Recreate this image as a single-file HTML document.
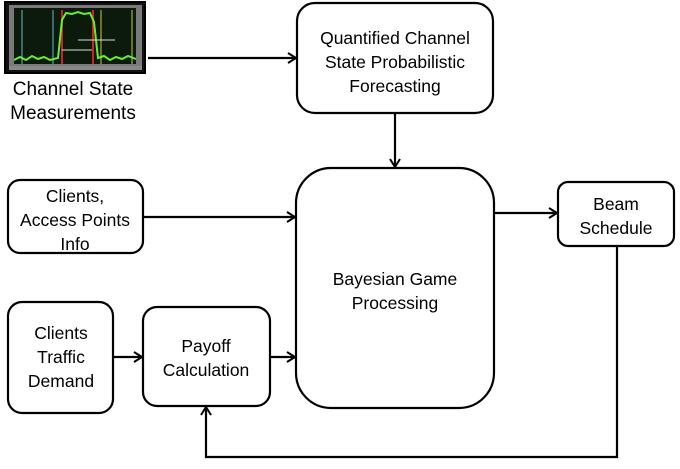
<!DOCTYPE html>
<html><head><style>
body{margin:0;background:#fff;}
svg text{font-family:"Liberation Sans",sans-serif;fill:#000;}
</style></head><body>
<svg width="680" height="464" viewBox="0 0 680 464" xmlns="http://www.w3.org/2000/svg">
<defs>
<marker id="a" markerWidth="12" markerHeight="12" refX="10" refY="6" orient="auto" markerUnits="userSpaceOnUse">
<path d="M2,1 L10,6 L2,11" fill="none" stroke="#000" stroke-width="2"/>
</marker>
</defs>
<rect x="5" y="2" width="140" height="71" fill="#111" stroke="#000" stroke-width="2"/>
<rect x="9" y="5" width="133" height="64" fill="#7a7a7a"/>
<rect x="14" y="8" width="122" height="56" fill="#0b1a0b"/>
<line x1="22" y1="10" x2="22" y2="64" stroke="#6bc" stroke-width="1"/>
<line x1="53" y1="10" x2="53" y2="64" stroke="#6bc" stroke-width="1"/>
<line x1="62" y1="10" x2="62" y2="64" stroke="#c22" stroke-width="2"/>
<line x1="93" y1="10" x2="93" y2="64" stroke="#c22" stroke-width="2"/>
<line x1="101" y1="10" x2="101" y2="64" stroke="#cc3" stroke-width="1"/>
<line x1="132" y1="10" x2="132" y2="64" stroke="#cc3" stroke-width="1"/>
<path d="M14,60 L20,57 L26,60 L32,56 L38,59 L44,57 L50,60 L58,58 L62,20 L66,13 L72,14 L78,12 L84,14 L90,13 L94,22 L98,58 L104,56 L110,60 L116,57 L122,59 L128,56 L136,59" fill="none" stroke="#6e3" stroke-width="2"/>
<line x1="62" y1="50" x2="92" y2="50" stroke="#ddd" stroke-width="1"/>
<line x1="78" y1="40" x2="115" y2="40" stroke="#ddd" stroke-width="1"/>
<rect x="9" y="66" width="133" height="4" fill="#888"/>
<text x="73" y="95" font-size="19" text-anchor="middle">Channel State</text>
<text x="73" y="119" font-size="19" text-anchor="middle">Measurements</text>
<g fill="#fff" stroke="#000" stroke-width="2.2">
<rect x="297" y="3" width="196" height="110" rx="18"/>
<rect x="296" y="168" width="198" height="240" rx="35"/>
<rect x="558" y="182" width="116" height="64" rx="10"/>
<rect x="8" y="180" width="135" height="73" rx="12"/>
<rect x="8" y="302" width="105" height="111" rx="14"/>
<rect x="143" y="307" width="127" height="99" rx="14"/>
</g>
<g font-size="17.5" text-anchor="middle">
<text x="395" y="44">Quantified Channel</text>
<text x="395" y="68">State Probabilistic</text>
<text x="395" y="92">Forecasting</text>
<text x="395" y="285">Bayesian Game</text>
<text x="395" y="309">Processing</text>
<text x="616" y="210">Beam</text>
<text x="616" y="234">Schedule</text>
<text x="75" y="202">Clients,</text>
<text x="75" y="226">Access Points</text>
<text x="75" y="250">Info</text>
<text x="61" y="339">Clients</text>
<text x="61" y="363">Traffic</text>
<text x="61" y="387">Demand</text>
<text x="206" y="352">Payoff</text>
<text x="206" y="376">Calculation</text>
</g>
<g stroke="#000" stroke-width="2.2" fill="none" marker-end="url(#a)">
<line x1="148" y1="58" x2="296" y2="58"/>
<line x1="395" y1="113" x2="395" y2="167"/>
<line x1="143" y1="217" x2="295" y2="217"/>
<line x1="113" y1="357" x2="142" y2="357"/>
<line x1="270" y1="357" x2="295" y2="357"/>
<line x1="494" y1="213" x2="557" y2="213"/>
<polyline points="617,246 617,457 206,457 206,407"/>
</g>
</svg>
</body></html>
